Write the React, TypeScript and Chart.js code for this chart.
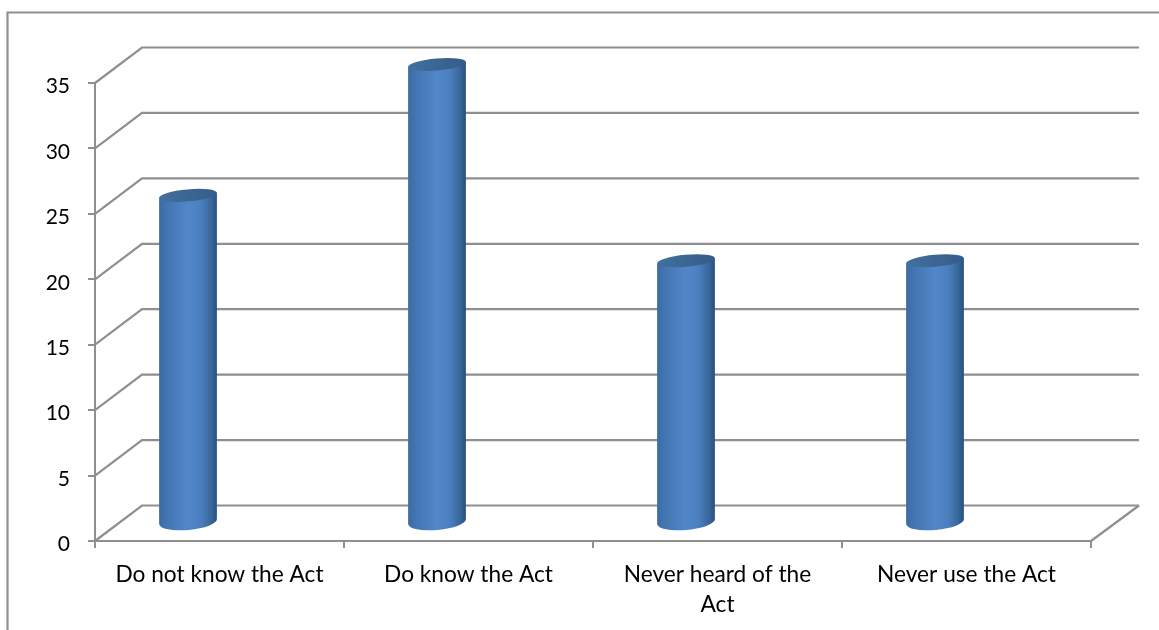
import React, { useEffect, useRef } from "react";
import { Chart, registerables } from "chart.js";

Chart.register(...registerables);

const categories = ["Do not know the Act", "Do know the Act", ["Never heard of the", "Act"], "Never use the Act"];
const values = [25, 35, 20, 20];
const yTicks = [0, 5, 10, 15, 20, 25, 30, 35];

const GRAY = "#8f8f8f";
const DEPTH_X = 47;
const DEPTH_Y = 35.5;
const BAR_SHIFT_X = -31.5;
const BAR_SHIFT_Y = -18.5;
const RX = 29;
const RY_TOP = 6;
const RY_BOTTOM = 8.5;
const TILT = -0.09;
const Y_LABEL_SHIFT = 3.5;

const wallPlugin = {
  id: "wall",
  beforeDatasetsDraw(chart: any) {
    const { ctx, chartArea, scales } = chart;
    const y = scales.y;
    ctx.save();
    ctx.strokeStyle = GRAY;
    ctx.lineWidth = 2.2;
    ctx.beginPath();
    ctx.moveTo(7.5, 630);
    ctx.lineTo(7.5, 12.5);
    ctx.lineTo(1159, 12.5);
    ctx.stroke();
    for (const v of yTicks) {
      const py = y.getPixelForValue(v);
      ctx.beginPath();
      ctx.moveTo(chartArea.left, py);
      ctx.lineTo(chartArea.left + DEPTH_X, py - DEPTH_Y);
      ctx.lineTo(chartArea.right + DEPTH_X + 1, py - DEPTH_Y);
      ctx.stroke();
    }
    const py0 = y.getPixelForValue(0);
    ctx.beginPath();
    ctx.moveTo(chartArea.right, py0);
    ctx.lineTo(chartArea.right + DEPTH_X + 1, py0 - DEPTH_Y);
    ctx.stroke();
    ctx.restore();
  },
  beforeDatasetDraw(chart: any, args: any) {
    const { ctx } = chart;
    const meta = chart.getDatasetMeta(args.index);
    for (const bar of meta.data) {
      const p = bar.getProps(["x", "y", "base", "width"], true);
      const cx = p.x + BAR_SHIFT_X;
      const top = p.y + BAR_SHIFT_Y;
      const bottom = p.base + BAR_SHIFT_Y;
      const dx = RX * Math.cos(TILT);
      const dy = RX * Math.sin(TILT);
      const l = cx - dx;
      const r = cx + dx;
      const g = ctx.createLinearGradient(l, 0, r, 0);
      g.addColorStop(0, "#3a6ba4");
      g.addColorStop(0.12, "#4274b0");
      g.addColorStop(0.5, "#5187c9");
      g.addColorStop(0.72, "#4a7fbf");
      g.addColorStop(0.9, "#38669b");
      g.addColorStop(1, "#27507e");
      ctx.save();
      ctx.beginPath();
      ctx.moveTo(l, top - dy);
      ctx.lineTo(l, bottom - dy);
      ctx.ellipse(cx, bottom, RX, RY_BOTTOM, TILT, Math.PI, 0, true);
      ctx.lineTo(r, top + dy);
      ctx.closePath();
      ctx.fillStyle = g;
      ctx.fill();
      const gt = ctx.createLinearGradient(l, 0, r, 0);
      gt.addColorStop(0, "#41709f");
      gt.addColorStop(1, "#355c88");
      ctx.beginPath();
      ctx.ellipse(cx, top, RX, RY_TOP, TILT, 0, Math.PI * 2);
      ctx.fillStyle = gt;
      ctx.fill();
      ctx.restore();
    }
    return false;
  },
};

export default function App() {
  const ref = useRef<HTMLCanvasElement>(null);
  useEffect(() => {
    const chart = new Chart(ref.current!, {
      type: "bar",
      data: {
        labels: categories as any,
        datasets: [
          {
            label: "Responses",
            data: values,
            backgroundColor: "#4f81bd",
            barPercentage: 0.233,
            categoryPercentage: 1,
          },
        ],
      },
      options: {
        animation: false,
        responsive: false,
        layout: { padding: { left: 0, right: 68, top: 83, bottom: 0 } },
        plugins: { legend: { display: false }, tooltip: { enabled: false } },
        scales: {
          x: {
            grid: { drawOnChartArea: false, color: GRAY, lineWidth: 2, tickLength: 7 },
            border: { color: GRAY, width: 2 },
            ticks: {
              color: "#000",
              font: { family: "Lato", size: 22.7, lineHeight: 1.32 },
              maxRotation: 0,
              autoSkip: false,
              padding: 12,
            },
            afterFit(s: any) {
              s.height = 89;
            },
          },
          y: {
            min: 0,
            max: 35,
            grid: { drawOnChartArea: false, color: GRAY, lineWidth: 2, tickLength: 7 },
            border: { color: GRAY, width: 2 },
            ticks: {
              stepSize: 5,
              color: "#000",
              font: { family: "Lato", size: 21 },
              padding: 18,
            },
            afterFit(s: any) {
              s.width = 95;
              const orig = s._computeLabelItems;
              if (!s._shifted) {
                s._shifted = true;
                s._computeLabelItems = function (area: any) {
                  return orig.call(s, area).map((item: any) => ({
                    ...item,
                    options: {
                      ...item.options,
                      translation: [item.options.translation[0], item.options.translation[1] + Y_LABEL_SHIFT],
                    },
                  }));
                };
              }
            },
          },
        },
      },
      plugins: [wallPlugin],
    });
    return () => chart.destroy();
  }, []);
  return (
    <div style={{ position: "fixed", left: 0, top: 0, width: 1159, height: 630, background: "#fff" }}>
      <canvas ref={ref} width={1159} height={630} style={{ display: "block" }} />
    </div>
  );
}
